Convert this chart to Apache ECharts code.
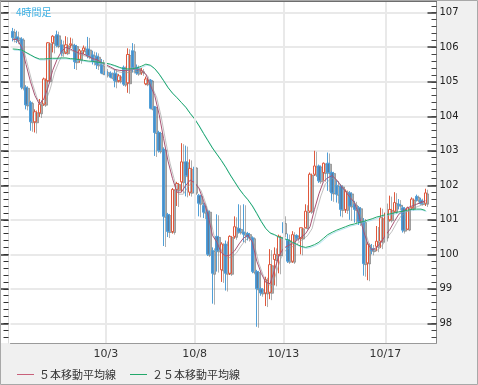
<!DOCTYPE html>
<html><head><meta charset="utf-8">
<script src="https://cdn.jsdelivr.net/npm/echarts@6/dist/echarts.min.js"></script>
<style>html,body{margin:0;padding:0;background:#f0f0f0}#c{width:478px;height:385px}</style>
</head><body><div id="c"></div>
<script>
// 4-hour candles (index 0..93)
const openV  = [106.46,106.30,106.24,104.84,104.40,103.84,104.10,104.35,105.03,106.13,106.36,106.07,105.84,106.07,106.05,105.65,105.90,105.95,105.78,105.74,105.49,105.30,105.25,105.25,105.03,105.42,104.97,105.90,105.42,105.28,104.94,105.05,104.28,103.53,103.05,101.15,100.66,101.88,102.10,102.68,101.80,102.53,101.71,101.42,101.25,100.11,100.52,99.55,100.30,99.45,100.52,100.75,100.65,100.60,100.48,99.50,99.00,98.88,98.90,99.85,99.99,100.92,100.42,99.80,100.55,100.47,100.77,101.25,102.32,102.56,102.37,102.64,102.37,102.00,101.98,101.30,101.78,101.45,101.35,100.95,99.75,100.17,100.23,100.38,100.50,101.00,101.25,101.45,101.35,100.73,101.35,101.68,101.57,101.48];
const closeV = [106.28,106.22,104.84,104.33,103.84,104.13,104.35,105.08,106.13,106.32,106.05,105.85,106.07,106.10,105.58,105.90,105.98,105.76,105.60,105.49,105.25,105.20,105.13,105.03,105.17,104.93,105.79,105.42,105.25,105.32,105.08,104.23,103.53,103.00,101.10,100.66,101.88,102.05,102.68,102.28,102.49,101.80,101.48,101.22,100.00,99.45,100.10,100.30,99.45,100.52,100.80,100.65,100.58,100.50,99.50,99.00,98.88,99.27,99.70,100.00,100.52,100.62,99.80,100.57,100.47,100.77,101.25,102.32,102.56,102.13,102.64,102.37,101.78,101.74,101.30,101.83,101.40,101.30,100.95,99.73,100.30,100.11,100.38,101.06,101.20,101.30,101.50,101.42,100.70,101.35,101.60,101.58,101.47,101.78];
const lowV   = [106.17,106.12,104.78,104.20,103.58,103.53,103.98,104.30,104.98,105.85,106.00,105.75,105.80,105.98,105.37,105.55,105.80,105.68,105.50,105.37,105.22,105.15,105.10,104.84,104.98,104.88,104.68,105.27,105.20,105.20,104.90,104.20,102.85,102.95,100.24,100.50,100.60,101.40,101.80,101.68,101.70,101.75,101.10,101.05,99.95,98.57,99.50,99.20,98.95,99.40,100.45,100.60,100.35,100.40,99.45,97.90,98.80,98.50,98.70,99.10,99.45,100.52,99.75,99.75,100.40,100.00,100.75,101.20,102.27,102.07,102.13,101.84,101.55,101.50,101.10,101.20,101.00,100.92,100.85,99.38,99.25,100.00,100.09,100.18,100.40,100.95,101.20,101.30,100.63,100.70,101.30,101.53,101.44,101.40];
const highV  = [106.56,106.48,106.29,104.90,104.45,104.20,104.50,105.12,106.15,106.35,106.48,106.22,106.32,106.28,106.10,105.95,106.05,106.30,105.90,105.85,105.66,105.40,105.30,105.37,105.22,105.47,105.97,106.12,105.50,105.40,105.15,105.08,104.30,103.58,103.10,101.20,101.92,102.10,103.22,103.15,102.75,102.55,101.75,101.50,101.30,100.20,101.16,100.35,100.40,100.55,101.10,101.45,101.45,100.65,100.52,99.55,99.05,99.35,100.15,100.20,100.57,101.13,100.60,100.67,100.58,100.77,101.45,102.37,103.00,102.60,102.66,102.95,102.42,102.15,102.03,101.88,101.83,101.55,101.40,101.05,100.35,100.30,100.82,101.35,101.50,101.70,101.80,101.60,101.40,101.38,101.65,101.73,101.64,101.90];
const ma5    = [106.22,106.23,106.00,105.50,105.00,104.60,104.35,104.50,104.85,105.33,105.65,105.88,106.00,105.95,105.88,105.83,105.80,105.74,105.67,105.64,105.56,105.49,105.43,105.36,105.33,105.32,105.33,105.35,105.36,105.33,105.22,104.90,104.60,104.05,103.35,102.70,102.20,101.80,101.80,102.00,102.15,102.08,101.90,101.55,101.15,100.55,100.35,100.05,99.95,99.98,100.10,100.30,100.47,100.55,100.35,99.80,99.45,99.19,99.15,99.55,99.95,100.17,100.25,100.30,100.40,100.50,100.60,100.80,101.30,101.75,102.10,102.22,102.28,102.15,101.98,101.82,101.65,101.50,101.15,100.70,100.30,100.12,100.20,100.35,100.55,100.72,100.95,101.16,101.25,101.35,101.40,101.45,101.50,101.55];
const ma25   = [105.95,105.94,105.92,105.85,105.78,105.71,105.66,105.66,105.67,105.68,105.68,105.69,105.69,105.67,105.66,105.64,105.62,105.60,105.59,105.57,105.55,105.54,105.51,105.47,105.42,105.38,105.37,105.38,105.40,105.45,105.51,105.48,105.38,105.22,105.03,104.83,104.67,104.54,104.40,104.26,104.08,103.92,103.72,103.50,103.29,103.08,102.90,102.72,102.52,102.30,102.10,101.90,101.73,101.58,101.40,101.18,100.95,100.75,100.62,100.57,100.50,100.46,100.42,100.35,100.29,100.23,100.20,100.23,100.28,100.35,100.46,100.57,100.64,100.70,100.75,100.80,100.85,100.88,100.92,100.95,100.99,101.03,101.08,101.11,101.15,101.17,101.20,101.23,101.25,101.28,101.30,101.31,101.31,101.27];
const dateLabels = ['10/3','10/8','10/13','10/17'];
const dateIndex  = [21, 41, 61, 84];
const yTicks = [98,99,100,101,102,103,104,105,106,107];

const N = openV.length + 2; // two empty slots at the right edge
const cats = []; for (let i = 0; i < N; i++) cats.push(String(i));
const candle = openV.map((o, i) => [o, closeV[i], lowV[i], highV[i]]);
const minor = []; for (let v = 976; v <= 1072; v += 2) minor.push(v / 10);
const YMIN = 97.43, YMAX = 107.34;

const chart = echarts.init(document.getElementById('c'), null, {renderer: 'canvas'});
const baseY = {type: 'value', min: YMIN, max: YMAX, scale: true, splitLine: {show: false}, axisLabel: {show: false}};
chart.setOption({
  animation: false,
  backgroundColor: '#f0f0f0',
  textStyle: {fontFamily: 'DejaVu Sans'},
  title: {text: '4時間足', left: 11, top: 2, textStyle: {fontSize: 10, color: '#3cb0e4', fontWeight: 'normal', fontFamily: 'Noto Sans CJK JP'}},
  graphic: [
    {type: 'rect', z: -100, shape: {x: 0, y: 0, width: 437, height: 343}, style: {fill: '#ffffff'}},
    {type: 'line', z: 100, shape: {x1: 0, y1: 1, x2: 437, y2: 1}, style: {stroke: '#6e6e6e', lineWidth: 2}},
    {type: 'rect', z: 100, shape: {x: 0.5, y: 0.5, width: 477, height: 384}, style: {fill: null, stroke: '#a8a8a8', lineWidth: 1}}
  ],
  legend: {
    left: 12, top: 364, itemWidth: 17, itemHeight: 1, itemGap: 14,
    textStyle: {fontSize: 11, color: '#333', fontFamily: 'Noto Sans CJK JP'},
    data: [{name: '５本移動平均線', icon: 'rect'}, {name: '２５本移動平均線', icon: 'rect'}]
  },
  grid: {left: 10.5, top: 1, width: 426, height: 342, containLabel: false},
  xAxis: {
    type: 'category', data: cats, boundaryGap: true,
    axisLine: {show: true, lineStyle: {color: '#9a9a9a', width: 1}},
    axisTick: {show: false},
    splitLine: {show: false},
    axisLabel: {
      interval: (i) => dateIndex.indexOf(i) >= 0,
      formatter: (v, i) => { const k = dateIndex.indexOf(Number(v)); return k >= 0 ? dateLabels[k] : ''; },
      fontSize: 11, color: '#333', margin: 6, fontFamily: 'DejaVu Sans'
    }
  },
  yAxis: [
    Object.assign({}, baseY, {position: 'right',
      axisLine: {show: true, lineStyle: {color: '#8a8a8a'}},
      axisTick: {show: true, inside: true, length: 9, customValues: yTicks, lineStyle: {color: '#666', width: 2}},
      axisLabel: {show: true, customValues: yTicks, margin: 3, fontSize: 10, color: '#222', fontFamily: 'DejaVu Sans'},
      splitLine: {show: true, lineStyle: {color: '#e9e9e9', width: 2}}}),
    Object.assign({}, baseY, {position: 'right',
      axisLine: {show: false},
      axisTick: {show: true, inside: true, length: 5, customValues: minor, lineStyle: {color: '#444', width: 1}}}),
    Object.assign({}, baseY, {position: 'left', offset: 2,
      axisLine: {show: true, lineStyle: {color: '#dcdcdc'}},
      axisTick: {show: true, inside: false, length: 8, customValues: yTicks, lineStyle: {color: '#666', width: 2}}}),
    Object.assign({}, baseY, {position: 'left', offset: 2,
      axisLine: {show: false},
      axisTick: {show: true, inside: false, length: 5, customValues: minor, lineStyle: {color: '#333', width: 1}}})
  ],
  series: [
    {
      type: 'line', data: [], z: 1, silent: true,
      markLine: {silent: true, symbol: ['none', 'none'], label: {show: false},
        lineStyle: {color: '#e9e9e9', width: 2, type: 'solid'},
        data: dateIndex.map(i => ({xAxis: String(i)}))}
    },
    {
      type: 'candlestick', name: 'price', data: candle, barWidth: 3, z: 3,
      itemStyle: {
        color: '#ffffff', color0: '#4a8cc8', borderColor: '#e0583c', borderColor0: '#4f9fd8', borderWidth: 1,
        shadowColor: 'rgba(110,110,110,0.55)', shadowOffsetX: 2, shadowOffsetY: 1, shadowBlur: 0
      }
    },
    {
      type: 'line', name: '５本移動平均線', data: ma5, showSymbol: false, z: 4, color: '#a85474',
      lineStyle: {color: '#a85474', width: 1, shadowColor: 'rgba(150,150,150,0.6)', shadowOffsetX: 2, shadowOffsetY: 2, shadowBlur: 0},
      itemStyle: {color: '#c8607a'}
    },
    {
      type: 'line', name: '２５本移動平均線', data: ma25, showSymbol: false, z: 4, color: '#22a86a',
      lineStyle: {color: '#22a86a', width: 1, shadowColor: 'rgba(110,200,230,0.5)', shadowOffsetX: 1, shadowOffsetY: 1, shadowBlur: 0},
      itemStyle: {color: '#22a86a'}
    }
  ]
});
</script></body></html>
